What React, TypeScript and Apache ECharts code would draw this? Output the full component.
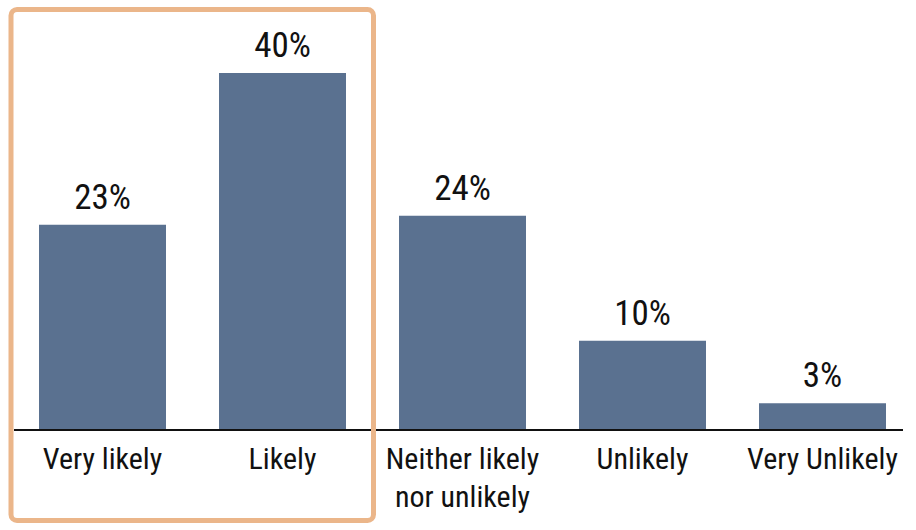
import React, { useEffect, useRef } from "react";
import * as echarts from "echarts";

const categories = ["Very likely", "Likely", "Neither likely\nnor unlikely", "Unlikely", "Very Unlikely"];
const values = [23, 40, 24, 10, 3];

const FONT = "'Liberation Sans Narrow', 'Roboto Condensed', 'Liberation Sans', sans-serif";

export default function App() {
  const ref = useRef<HTMLDivElement>(null);
  useEffect(() => {
    if (!ref.current) return;
    const chart = echarts.init(ref.current, null, { renderer: "svg" });
    chart.setOption({
      animation: false,
      backgroundColor: "#ffffff",
      grid: { left: 12.5, right: 3.5, top: 73, bottom: 100, containLabel: false },
      xAxis: {
        type: "category",
        data: categories,
        axisLine: { show: false },
        axisTick: { show: false },
        axisLabel: {
          color: "#111111",
          fontFamily: FONT,
          fontSize: 30,
          lineHeight: 38,
          margin: 9,
          interval: 0,
        },
      },
      yAxis: {
        type: "value",
        min: 0,
        max: 40,
        show: false,
        splitLine: { show: false },
      },
      series: [
        {
          type: "bar",
          data: values,
          barWidth: 127,
          itemStyle: { color: "#5A7190" },
          label: {
            show: true,
            position: "top",
            distance: 10,
            formatter: "{c}%",
            color: "#111111",
            fontFamily: FONT,
            fontSize: 35,
          },
        },
      ],
      graphic: [
        {
          type: "line",
          shape: { x1: 14, y1: 430, x2: 903, y2: 430 },
          style: { stroke: "#111111", lineWidth: 2 },
          z: 10,
        },
        {
          type: "rect",
          shape: { x: 11, y: 9.5, width: 362.5, height: 511, r: 6 },
          style: { fill: "none", stroke: "#EBB68A", lineWidth: 5 },
          z: 20,
        },
      ],
    });
    return () => chart.dispose();
  }, []);
  return <div ref={ref} style={{ width: 916, height: 530, position: "absolute", left: 0, top: 0 }} />;
}
